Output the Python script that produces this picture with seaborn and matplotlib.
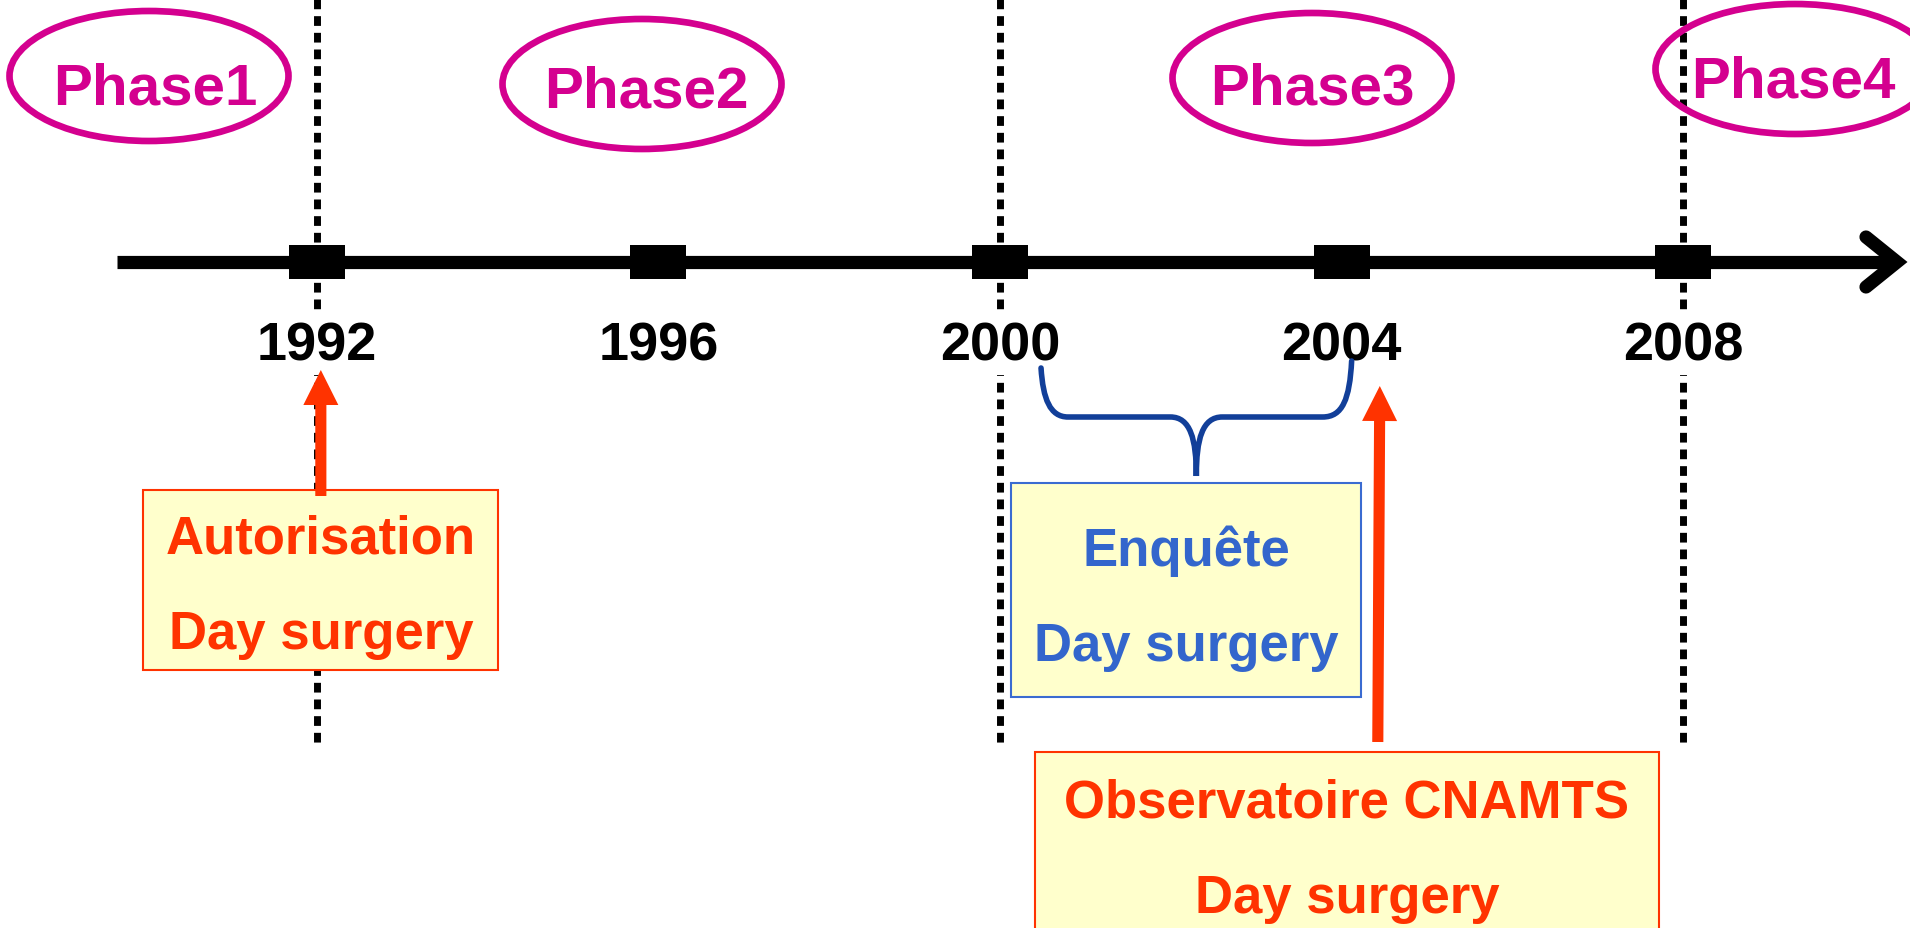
import matplotlib
matplotlib.use('Agg')
import matplotlib.pyplot as plt
import seaborn as sns
from matplotlib.patches import Ellipse, Rectangle, PathPatch
from matplotlib.path import Path
from matplotlib import font_manager

# --- data ---
years = [1992, 1996, 2000, 2004, 2008]
year_labels = ['1992', '1996', '2000', '2004', '2008']
phase_labels = ['Phase1', 'Phase2', 'Phase3', 'Phase4']
phase_bounds = [1992, 2000, 2008]
autorisation_year = 1992
enquete_span = [2000, 2004]
observatoire_year = 2004.4
autorisation_lines = ['Autorisation', 'Day surgery']
enquete_lines = ['Enquête', 'Day surgery']
observatoire_lines = ['Observatoire CNAMTS', 'Day surgery']

# --- layout helpers (x in years, y in pixel rows from the top) ---
PX_PER_YEAR = 85.4
X0 = 1988.29


def X(px):
    return X0 + px / PX_PER_YEAR


def W(px):
    return px / PX_PER_YEAR


MAGENTA = '#D4008F'
RED = '#FF3300'
BLUE_TXT = '#3366CC'
BLUE_BRACE = '#123F99'
YELLOW = '#FFFFCC'

sns.set_style('white')
plt.rcParams['font.family'] = ['Liberation Sans', 'DejaVu Sans']
names = {f.name for f in font_manager.fontManager.ttflist}
if 'Liberation Sans Narrow' in names:
    phase_font, phase_size = ['Liberation Sans Narrow', 'DejaVu Sans'], 50
else:
    phase_font, phase_size = ['Liberation Sans', 'DejaVu Sans'], 42

fig = plt.figure(figsize=(19.1, 9.29), dpi=100)
ax = fig.add_axes([0, 0, 1, 1])

# dotted phase boundaries
for yr in phase_bounds:
    ax.plot([yr, yr], [0, 745], color='black', lw=5,
            linestyle=(0, (1.4, 1.0)), zorder=1)

# time axis with open arrow head
ax.plot([X(117), X(1893)], [263, 263], color='black', lw=9.5,
        solid_capstyle='butt', zorder=2)
ax.plot([X(1866), X(1897), X(1866)], [238, 263, 288], color='black', lw=9.5,
        solid_capstyle='round', solid_joinstyle='miter', zorder=2)

# tick blocks
verts = [(-1, -0.607), (1, -0.607), (1, 0.607), (-1, 0.607)]
sns.scatterplot(x=years, y=[263] * len(years), marker=verts, s=1625,
                color='black', linewidth=0, ax=ax, zorder=3, legend=False)
ax.set_xlim(X0, X(1910))
ax.set_ylim(929, 0)
ax.axis('off')

for yr, lab in zip(years, year_labels):
    ax.text(yr, 360, lab, ha='center', va='baseline', fontsize=39,
            fontweight='bold', color='black', zorder=4,
            bbox=dict(facecolor='white', edgecolor='none', pad=4))

# phase ellipses
phase_cx = [149, 642, 1312, 1795]
phase_cy = [77, 85, 79, 70]
phase_tx = [155, 646, 1312, 1793]
phase_base = [104, 107, 104, 97]
for lab, cx, cy, tx, tb in zip(phase_labels, phase_cx, phase_cy, phase_tx, phase_base):
    ax.add_patch(Ellipse((X(cx), cy), W(279), 130, fill=False,
                         edgecolor=MAGENTA, lw=4.8, zorder=3))
    ax.text(X(tx), tb, lab, ha='center', va='baseline', fontsize=phase_size,
            fontweight='bold', color=MAGENTA, family=phase_font, zorder=4)

arrow_kw = dict(arrowstyle='simple,head_width=0.63,head_length=0.63,tail_width=0.2',
                mutation_scale=40, color=RED, lw=0, shrinkA=0, shrinkB=0)

# Autorisation box + arrow
cx = autorisation_year + W(4)
ax.add_patch(Rectangle((cx - W(177.5), 491), W(355), 180, facecolor=YELLOW,
                       edgecolor=RED, lw=1.5, zorder=3))
for txt, base in zip(autorisation_lines, [554, 649]):
    ax.text(cx, base, txt, ha='center', va='baseline', fontsize=38,
            fontweight='bold', color=RED, zorder=4)
ax.annotate('', xy=(cx, 371), xytext=(cx, 497), arrowprops=arrow_kw, zorder=5)

# Enquête box + brace
ax.add_patch(Rectangle((X(1011), 484), W(350), 214, facecolor=YELLOW,
                       edgecolor='#3A6BD1', lw=1.5, zorder=3))
for txt, base in zip(enquete_lines, [566, 661]):
    ax.text(X(1186), base, txt, ha='center', va='baseline', fontsize=38,
            fontweight='bold', color=BLUE_TXT, zorder=4)

bl = enquete_span[0] + W(41)
br = enquete_span[1] + W(10)
bm = (bl + br) / 2
brace_pts = [(bl, 369), (bl + W(2), 400), (bl + W(9), 418), (bl + W(27), 418),
             (bm - W(26), 418),
             (bm - W(6), 418), (bm, 440), (bm, 477),
             (bm, 440), (bm + W(6), 418), (bm + W(26), 418),
             (br - W(29), 418),
             (br - W(9), 418), (br - W(2), 400), (br, 362)]
brace_codes = [Path.MOVETO, Path.CURVE4, Path.CURVE4, Path.CURVE4,
               Path.LINETO,
               Path.CURVE4, Path.CURVE4, Path.CURVE4,
               Path.CURVE4, Path.CURVE4, Path.CURVE4,
               Path.LINETO,
               Path.CURVE4, Path.CURVE4, Path.CURVE4]
ax.add_patch(PathPatch(Path(brace_pts, brace_codes), fill=False,
                       edgecolor=BLUE_BRACE, lw=4, capstyle='round', zorder=5))

# Observatoire box + arrow
ax.add_patch(Rectangle((X(1035), 753), W(624), 200, facecolor=YELLOW,
                       edgecolor=RED, lw=1.5, zorder=3))
for txt, base in zip(observatoire_lines, [818, 913]):
    ax.text(X(1347), base, txt, ha='center', va='baseline', fontsize=38,
            fontweight='bold', color=RED, zorder=4)
ax.annotate('', xy=(observatoire_year + W(4), 387),
            xytext=(observatoire_year + W(2), 743), arrowprops=arrow_kw, zorder=5)

fig.savefig('out.png', dpi=100)
